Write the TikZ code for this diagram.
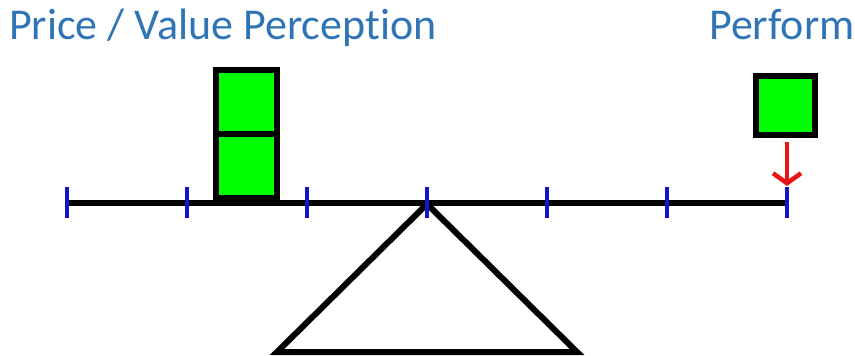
\documentclass[tikz,border=0pt]{standalone}
\usepackage{fontspec}
\setmainfont{Carlito}[Ligatures=NoCommon]
\usetikzlibrary{arrows.meta}
\definecolor{titleblue}{RGB}{47,117,181}
\definecolor{tickblue}{RGB}{20,20,205}
\definecolor{boxgreen}{RGB}{0,255,0}
\definecolor{arrowred}{RGB}{235,20,20}
\begin{document}
\begin{tikzpicture}[x=1pt,y=-1pt,
  beam/.style={line width=6pt,black},
  tickmark/.style={line width=4pt,tickblue},
  weight/.style={draw=black,line width=6pt,fill=boxgreen},
  fulcrum/.style={draw=black,line width=6pt,line join=miter},
  label/.style={text=titleblue,font=\fontsize{44}{48}\selectfont,inner sep=0pt,anchor=base west}]
\useasboundingbox (0,0) rectangle (855,356);
% fulcrum
\draw[fulcrum] (427,204) -- (577,352) -- (277,352) -- cycle;
% beam
\coordinate (bl) at (67,203);
\coordinate (br) at (787,203);
\draw[beam] (bl) -- (br);
% weights
\draw[weight] (216,70) rectangle (277,134);
\draw[weight] (216,134) rectangle (277,198);
\draw[weight] (756,76) rectangle (815,135);
% ticks
\foreach \i in {0,...,6}{
  \draw[tickmark] ({67+120*\i},187) -- ({67+120*\i},218);
}
% red arrow
\coordinate (as) at (787,142);
\coordinate (ae) at (787,186);
\draw[arrowred,line width=4.5pt,-{Straight Barb[length=10pt,width=28pt]}] (as) -- (ae);
% labels
\node[label] (t1) at (9,39) {Price / Value Perception};
\node[label] (t2) at (709,39) {Perform};
\end{tikzpicture}
\end{document}
